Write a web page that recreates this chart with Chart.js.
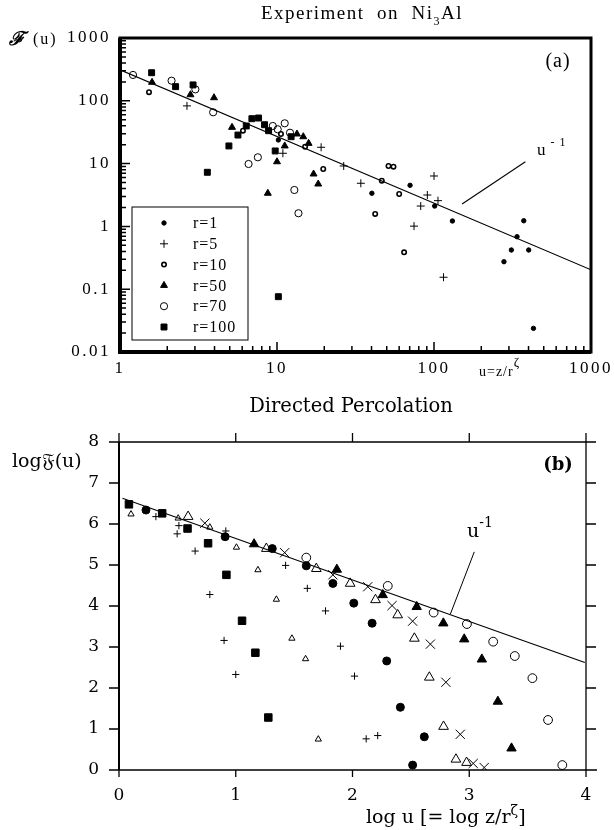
<!DOCTYPE html>
<html>
<head>
<meta charset="utf-8">
<script src="https://cdn.jsdelivr.net/npm/chart.js@4.4.1/dist/chart.umd.min.js"></script>
<style>
html,body{margin:0;padding:0;background:#fff;}
#wrap{position:relative;width:614px;height:830px;overflow:hidden;}
#c1{position:absolute;left:0;top:0;}
#c2{position:absolute;left:0;top:390px;}
</style>
</head>
<body>
<div id="wrap">
  <canvas id="c1" width="614" height="390"></canvas>
  <canvas id="c2" width="614" height="440"></canvas>
</div>
<script>
// ---- panel (a): Experiment on Ni3Al, u = z/r^zeta vs F(u) ----
const r1U   = [10.2, 40.2, 70.4, 101, 131, 373, 338, 311, 401, 279, 430];
const r1F   = [23.8, 3.37, 4.51, 2.11, 1.22, 1.23, 0.685, 0.421, 0.421, 0.274, 0.0238];
const r5U   = [2.67, 10.9, 19.1, 26.6, 34.2, 100, 90.7, 106, 82.3, 74.6, 115];
const r5F   = [83, 14.6, 18.2, 9.16, 4.86, 6.35, 3.16, 2.57, 2.11, 1.01, 0.155];
const r10U  = [1.53, 6.07, 10.6, 15.1, 19.7, 51.3, 55.2, 46.5, 60, 42.2, 64.5];
const r10F  = [137, 33.4, 29.6, 18.6, 8.2, 9.16, 8.93, 5.34, 3.28, 1.58, 0.387];
const r50U  = [1.60, 2.81, 3.97, 5.17, 13.4, 14.7, 15.9, 11.2, 10.0, 17.1, 18.3, 8.74];
const r50F  = [197, 125, 112, 37.8, 29.6, 26.8, 21.0, 19.1, 10.7, 6.83, 4.73, 3.37];
const r70U  = [1.21, 2.13, 3.02, 3.92, 9.4, 11.2, 10.1, 12.1, 7.55, 6.59, 12.9, 13.7];
const r70F  = [258, 209, 152, 65.6, 39.7, 43.8, 35.2, 31.0, 12.6, 9.86, 3.8, 1.62];
const r100U = [1.59, 2.26, 2.92, 6.37, 5.64, 6.92, 7.63, 4.94, 3.6, 8.33, 8.84, 12.3, 9.74, 10.2];
const r100F = [280, 168, 179, 39.7, 28.5, 51.9, 53.2, 19.1, 7.27, 41.6, 33.4, 26.8, 15.9, 0.076];
const fitAU = [1, 1000];
const fitAF = [311, 0.204];
const xTicksA = [1, 10, 100, 1000];
const yTicksA = [0.01, 0.1, 1, 10, 100, 1000];

// ---- panel (b): Directed Percolation, log u vs log F(u) ----
const sqX   = [0.085, 0.37, 0.587, 0.763, 0.92, 1.054, 1.168, 1.279];
const sqY   = [6.48, 6.26, 5.89, 5.53, 4.76, 3.64, 2.86, 1.28];
const stX   = [0.103, 0.507, 0.778, 1.006, 1.19, 1.348, 1.481, 1.598, 1.707];
const stY   = [6.24, 6.14, 5.92, 5.43, 4.88, 4.16, 3.21, 2.71, 0.75];
const plX   = [0.316, 0.498, 0.513, 0.652, 0.778, 0.9, 0.915, 1.0, 1.427, 1.613, 1.769, 1.897, 2.017, 2.117, 2.216];
const plY   = [6.18, 5.76, 5.96, 5.34, 4.28, 3.16, 5.83, 2.33, 4.99, 4.43, 3.88, 3.02, 2.29, 0.76, 0.84];
const btX   = [0.592, 1.262, 1.69, 1.98, 2.197, 2.387, 2.53, 2.658, 2.78, 2.886, 2.977];
const btY   = [6.18, 5.40, 4.91, 4.55, 4.15, 3.78, 3.21, 2.26, 1.06, 0.26, 0.18];
const fcX   = [0.231, 0.909, 1.313, 1.604, 1.832, 2.011, 2.168, 2.293, 2.41, 2.615, 2.515];
const fcY   = [6.34, 5.69, 5.40, 4.98, 4.55, 4.07, 3.58, 2.66, 1.53, 0.81, 0.12];
const xxX   = [0.735, 1.419, 1.832, 2.131, 2.339, 2.515, 2.667, 2.8, 2.923, 3.034, 3.128];
const xxY   = [6.02, 5.30, 4.76, 4.47, 4.01, 3.63, 3.07, 2.14, 0.87, 0.16, 0.06];
const ftX   = [1.157, 1.866, 2.259, 2.55, 2.778, 2.957, 3.108, 3.245, 3.362];
const ftY   = [5.51, 4.89, 4.27, 3.98, 3.58, 3.19, 2.70, 1.67, 0.53];
const ocX   = [1.604, 2.302, 2.695, 2.98, 3.205, 3.39, 3.541, 3.675, 3.797];
const ocY   = [5.18, 4.49, 3.84, 3.56, 3.13, 2.78, 2.24, 1.22, 0.12];
const fitBX = [0.03, 3.99];
const fitBY = [6.63, 2.62];
const xTicksB = [0, 1, 2, 3, 4];
const yTicksB = [0, 1, 2, 3, 4, 5, 6, 7, 8];

const SERIF_A = "'Liberation Serif', serif";
const SERIF_B = "'DejaVu Serif', serif";

function pts(xs, ys) { return xs.map((x, i) => ({x, y: ys[i]})); }
function mk(label, xs, ys, style, r, fill, bw) {
    return { label, data: pts(xs, ys), showLine: false, pointStyle: style,
        pointRadius: r, pointHoverRadius: r,
        pointBackgroundColor: fill ? '#000' : 'rgba(0,0,0,0)',
        pointBorderColor: '#000', pointBorderWidth: bw };
}
function fitLine(xs, ys) {
    return { label: 'fit', data: pts(xs, ys), showLine: true, pointRadius: 0,
        borderColor: '#000', borderWidth: 1.1, fill: false };
}
// draw consecutive text pieces: [text, font, dy]
function runs(ctx, x, y, parts, align) {
    let w = 0;
    parts.forEach(p => { ctx.font = p[1]; w += ctx.measureText(p[0]).width; });
    if (align === 'center') x -= w / 2;
    ctx.textAlign = 'left';
    parts.forEach(p => { ctx.font = p[1]; ctx.fillText(p[0], x, y + (p[2] || 0)); x += ctx.measureText(p[0]).width; });
}

const setsA = [
    mk('r=1', r1U, r1F, 'circle', 2.2, true, 1),
    mk('r=5', r5U, r5F, 'cross', 4, false, 1),
    mk('r=10', r10U, r10F, 'circle', 2.2, false, 1.6),
    mk('r=50', r50U, r50F, 'triangle', 4, true, 1),
    mk('r=70', r70U, r70F, 'circle', 3.6, false, 1),
    mk('r=100', r100U, r100F, 'rect', 4.2, true, 1),
];

const panelA = {
    id: 'panelA',
    beforeDraw(c) { c.ctx.letterSpacing = '2.5px'; },
    beforeDatasetsDraw(c) {
        const {ctx, chartArea: a, scales: {x, y}} = c;
        ctx.save();
        ctx.strokeStyle = '#000';
        ctx.lineWidth = 3;
        ctx.strokeRect(a.left, a.top, a.right - a.left, a.bottom - a.top);
        ctx.lineWidth = 4;
        ctx.beginPath();
        ctx.moveTo(a.left, a.top); ctx.lineTo(a.left, a.bottom); ctx.lineTo(a.right, a.bottom);
        ctx.stroke();
        // inward log ticks
        ctx.lineWidth = 1.5;
        ctx.beginPath();
        for (let d = 1; d < 1000; d *= 10) for (let k = 1; k < 10; k++) {
            const v = d * k; if (v <= 1) continue;
            const px = x.getPixelForValue(v), len = k === 1 ? 10 : 6;
            ctx.moveTo(px, a.bottom); ctx.lineTo(px, a.bottom - len);
        }
        for (let e = -2; e < 3; e++) for (let k = 1; k < 10; k++) {
            const v = Math.pow(10, e) * k; if (e === -2 && k === 1) continue;
            const py = y.getPixelForValue(v), len = k === 1 ? 10 : 6;
            ctx.moveTo(a.left, py); ctx.lineTo(a.left + len, py);
        }
        ctx.stroke();
        ctx.restore();
    },
    afterDraw(c) {
        const {ctx, scales: {x, y}} = c;
        ctx.save();
        ctx.fillStyle = '#000'; ctx.strokeStyle = '#000';
        ctx.textBaseline = 'middle';
        ctx.letterSpacing = '1.5px';
        runs(ctx, 362, 14, [['Experiment  on  Ni', '19px ' + SERIF_A], ['3', '12px ' + SERIF_A, 8], ['Al', '19px ' + SERIF_A]], 'center');
        ctx.letterSpacing = '2px';
        runs(ctx, 9, 40, [['\u2131', 'bold italic 19px ' + SERIF_A], [' (u)', '16px ' + SERIF_A]]);
        ctx.letterSpacing = '1px';
        ctx.font = '20px ' + SERIF_A; ctx.textAlign = 'center';
        ctx.fillText('(a)', 558, 62);
        runs(ctx, 537, 151, [['u', '17px ' + SERIF_A], [' - 1', '12px ' + SERIF_A, -8]]);
        runs(ctx, 479, 372, [['u=z/r', '14px ' + SERIF_A], ['\u03b6', '13px ' + SERIF_A, -9]]);
        // leader to the fit line
        ctx.lineWidth = 1.1;
        ctx.beginPath();
        ctx.moveTo(x.getPixelForValue(151), y.getPixelForValue(2.27));
        ctx.lineTo(x.getPixelForValue(382), y.getPixelForValue(10.7));
        ctx.stroke();
        // legend box
        ctx.lineWidth = 1;
        ctx.strokeRect(132, 207, 116, 133);
        ctx.letterSpacing = '1px';
        setsA.forEach((s, i) => {
            const ry = 223 + i * 20.8;
            ctx.fillStyle = s.pointBackgroundColor; ctx.strokeStyle = '#000';
            ctx.lineWidth = s.pointBorderWidth;
            Chart.helpers.drawPoint(ctx, {pointStyle: s.pointStyle, radius: s.pointRadius, rotation: 0, borderWidth: s.pointBorderWidth}, 164, ry);
            ctx.fillStyle = '#000';
            ctx.font = '16px ' + SERIF_A; ctx.textAlign = 'left';
            ctx.fillText(s.label, 193, ry + 1);
        });
        ctx.restore();
        ctx.letterSpacing = '0px';
    }
};

new Chart(document.getElementById('c1'), {
    type: 'scatter',
    data: { datasets: [...setsA, fitLine(fitAU, fitAF)] },
    options: {
        responsive: false, animation: false, devicePixelRatio: 1,
        layout: { padding: { left: 0, top: 38, right: 21, bottom: 0 } },
        plugins: { legend: { display: false }, tooltip: { enabled: false } },
        scales: {
            x: { type: 'logarithmic', min: 1, max: 1000,
                border: { display: false }, grid: { display: false, drawTicks: false },
                afterBuildTicks: s => { s.ticks = xTicksA.map(v => ({value: v})); },
                afterFit: s => { s.height = 38; },
                ticks: { color: '#000', font: { family: SERIF_A, size: 17 }, padding: 6,
                    maxRotation: 0, autoSkip: false, callback: v => String(v) } },
            y: { type: 'logarithmic', min: 0.01, max: 1000,
                border: { display: false }, grid: { display: false, drawTicks: false },
                afterBuildTicks: s => { s.ticks = yTicksA.map(v => ({value: v})); },
                afterFit: s => { s.width = 120; },
                ticks: { color: '#000', font: { family: SERIF_A, size: 17 }, padding: 9,
                    autoSkip: false, callback: v => String(v) } }
        }
    },
    plugins: [panelA]
});

const panelB = {
    id: 'panelB',
    beforeDatasetsDraw(c) {
        const {ctx, chartArea: a, scales: {x, y}} = c;
        ctx.save();
        ctx.strokeStyle = '#000';
        ctx.lineWidth = 1.3;
        ctx.beginPath();
        ctx.moveTo(a.left - 10, a.top); ctx.lineTo(a.right + 10, a.top);
        ctx.moveTo(a.left, a.bottom); ctx.lineTo(a.right + 11, a.bottom);
        ctx.moveTo(a.right, a.top); ctx.lineTo(a.right, a.bottom);
        xTicksB.forEach(v => {
            const px = x.getPixelForValue(v);
            ctx.moveTo(px, a.top); ctx.lineTo(px, a.top - 9);
            ctx.moveTo(px, a.bottom); ctx.lineTo(px, a.bottom + 7);
        });
        yTicksB.forEach(v => {
            const py = y.getPixelForValue(v);
            ctx.moveTo(a.left, py); ctx.lineTo(a.left - 10, py);
            ctx.moveTo(a.right, py); ctx.lineTo(a.right + 10, py);
        });
        ctx.stroke();
        ctx.lineWidth = 2;
        ctx.beginPath();
        ctx.moveTo(a.left, a.top); ctx.lineTo(a.left, a.bottom);
        ctx.stroke();
        ctx.restore();
    },
    afterDraw(c) {
        const {ctx, scales: {x, y}} = c;
        ctx.save();
        ctx.fillStyle = '#000'; ctx.strokeStyle = '#000';
        ctx.textBaseline = 'middle';
        runs(ctx, 351, 17, [['Directed Percolation', '19.5px ' + SERIF_B]], 'center');
        runs(ctx, 12, 72, [['log', '19px ' + SERIF_B], ['\ud835\udd09', '20px ' + SERIF_B], ['(u)', '19px ' + SERIF_B]]);
        ctx.font = 'bold 18px ' + SERIF_B; ctx.textAlign = 'center';
        ctx.fillText('(b)', 558, 75);
        runs(ctx, 467, 142, [['u', '19px ' + SERIF_B], ['-1', '14px ' + SERIF_B, -9]]);
        runs(ctx, 366, 428, [['log u [= log z/r', '19px ' + SERIF_B], ['\u03b6', '14px ' + SERIF_B, -7], [']', '19px ' + SERIF_B]]);
        ctx.lineWidth = 1;
        ctx.beginPath();
        ctx.moveTo(x.getPixelForValue(3.043), y.getPixelForValue(5.32));
        ctx.lineTo(x.getPixelForValue(2.838), y.getPixelForValue(3.80));
        ctx.stroke();
        ctx.restore();
    }
};

new Chart(document.getElementById('c2'), {
    type: 'scatter',
    data: { datasets: [
        mk('squares', sqX, sqY, 'rect', 5.3, true, 1),
        mk('small triangles', stX, stY, 'triangle', 3.6, false, 1),
        mk('plus', plX, plY, 'cross', 3.6, false, 1),
        mk('big triangles', btX, btY, 'triangle', 5.6, false, 1),
        mk('filled circles', fcX, fcY, 'circle', 4, true, 1),
        mk('crosses', xxX, xxY, 'crossRot', 6.5, false, 1),
        mk('filled triangles', ftX, ftY, 'triangle', 5.4, true, 1),
        mk('open circles', ocX, ocY, 'circle', 4.4, false, 1),
        fitLine(fitBX, fitBY)
    ] },
    options: {
        responsive: false, animation: false, devicePixelRatio: 1,
        layout: { padding: { left: 0, top: 52, right: 28, bottom: 0 } },
        plugins: { legend: { display: false }, tooltip: { enabled: false } },
        scales: {
            x: { type: 'linear', min: 0, max: 4,
                border: { display: false }, grid: { display: false, drawTicks: false },
                afterBuildTicks: s => { s.ticks = xTicksB.map(v => ({value: v})); },
                afterFit: s => { s.height = 60; },
                ticks: { color: '#000', font: { family: SERIF_B, size: 17 }, padding: 15, maxRotation: 0 } },
            y: { type: 'linear', min: 0, max: 8,
                border: { display: false }, grid: { display: false, drawTicks: false },
                afterBuildTicks: s => { s.ticks = yTicksB.map(v => ({value: v})); },
                afterFit: s => { s.width = 119; },
                ticks: { color: '#000', font: { family: SERIF_B, size: 17 }, padding: 20 } }
        }
    },
    plugins: [panelB]
});
</script>
</body>
</html>
